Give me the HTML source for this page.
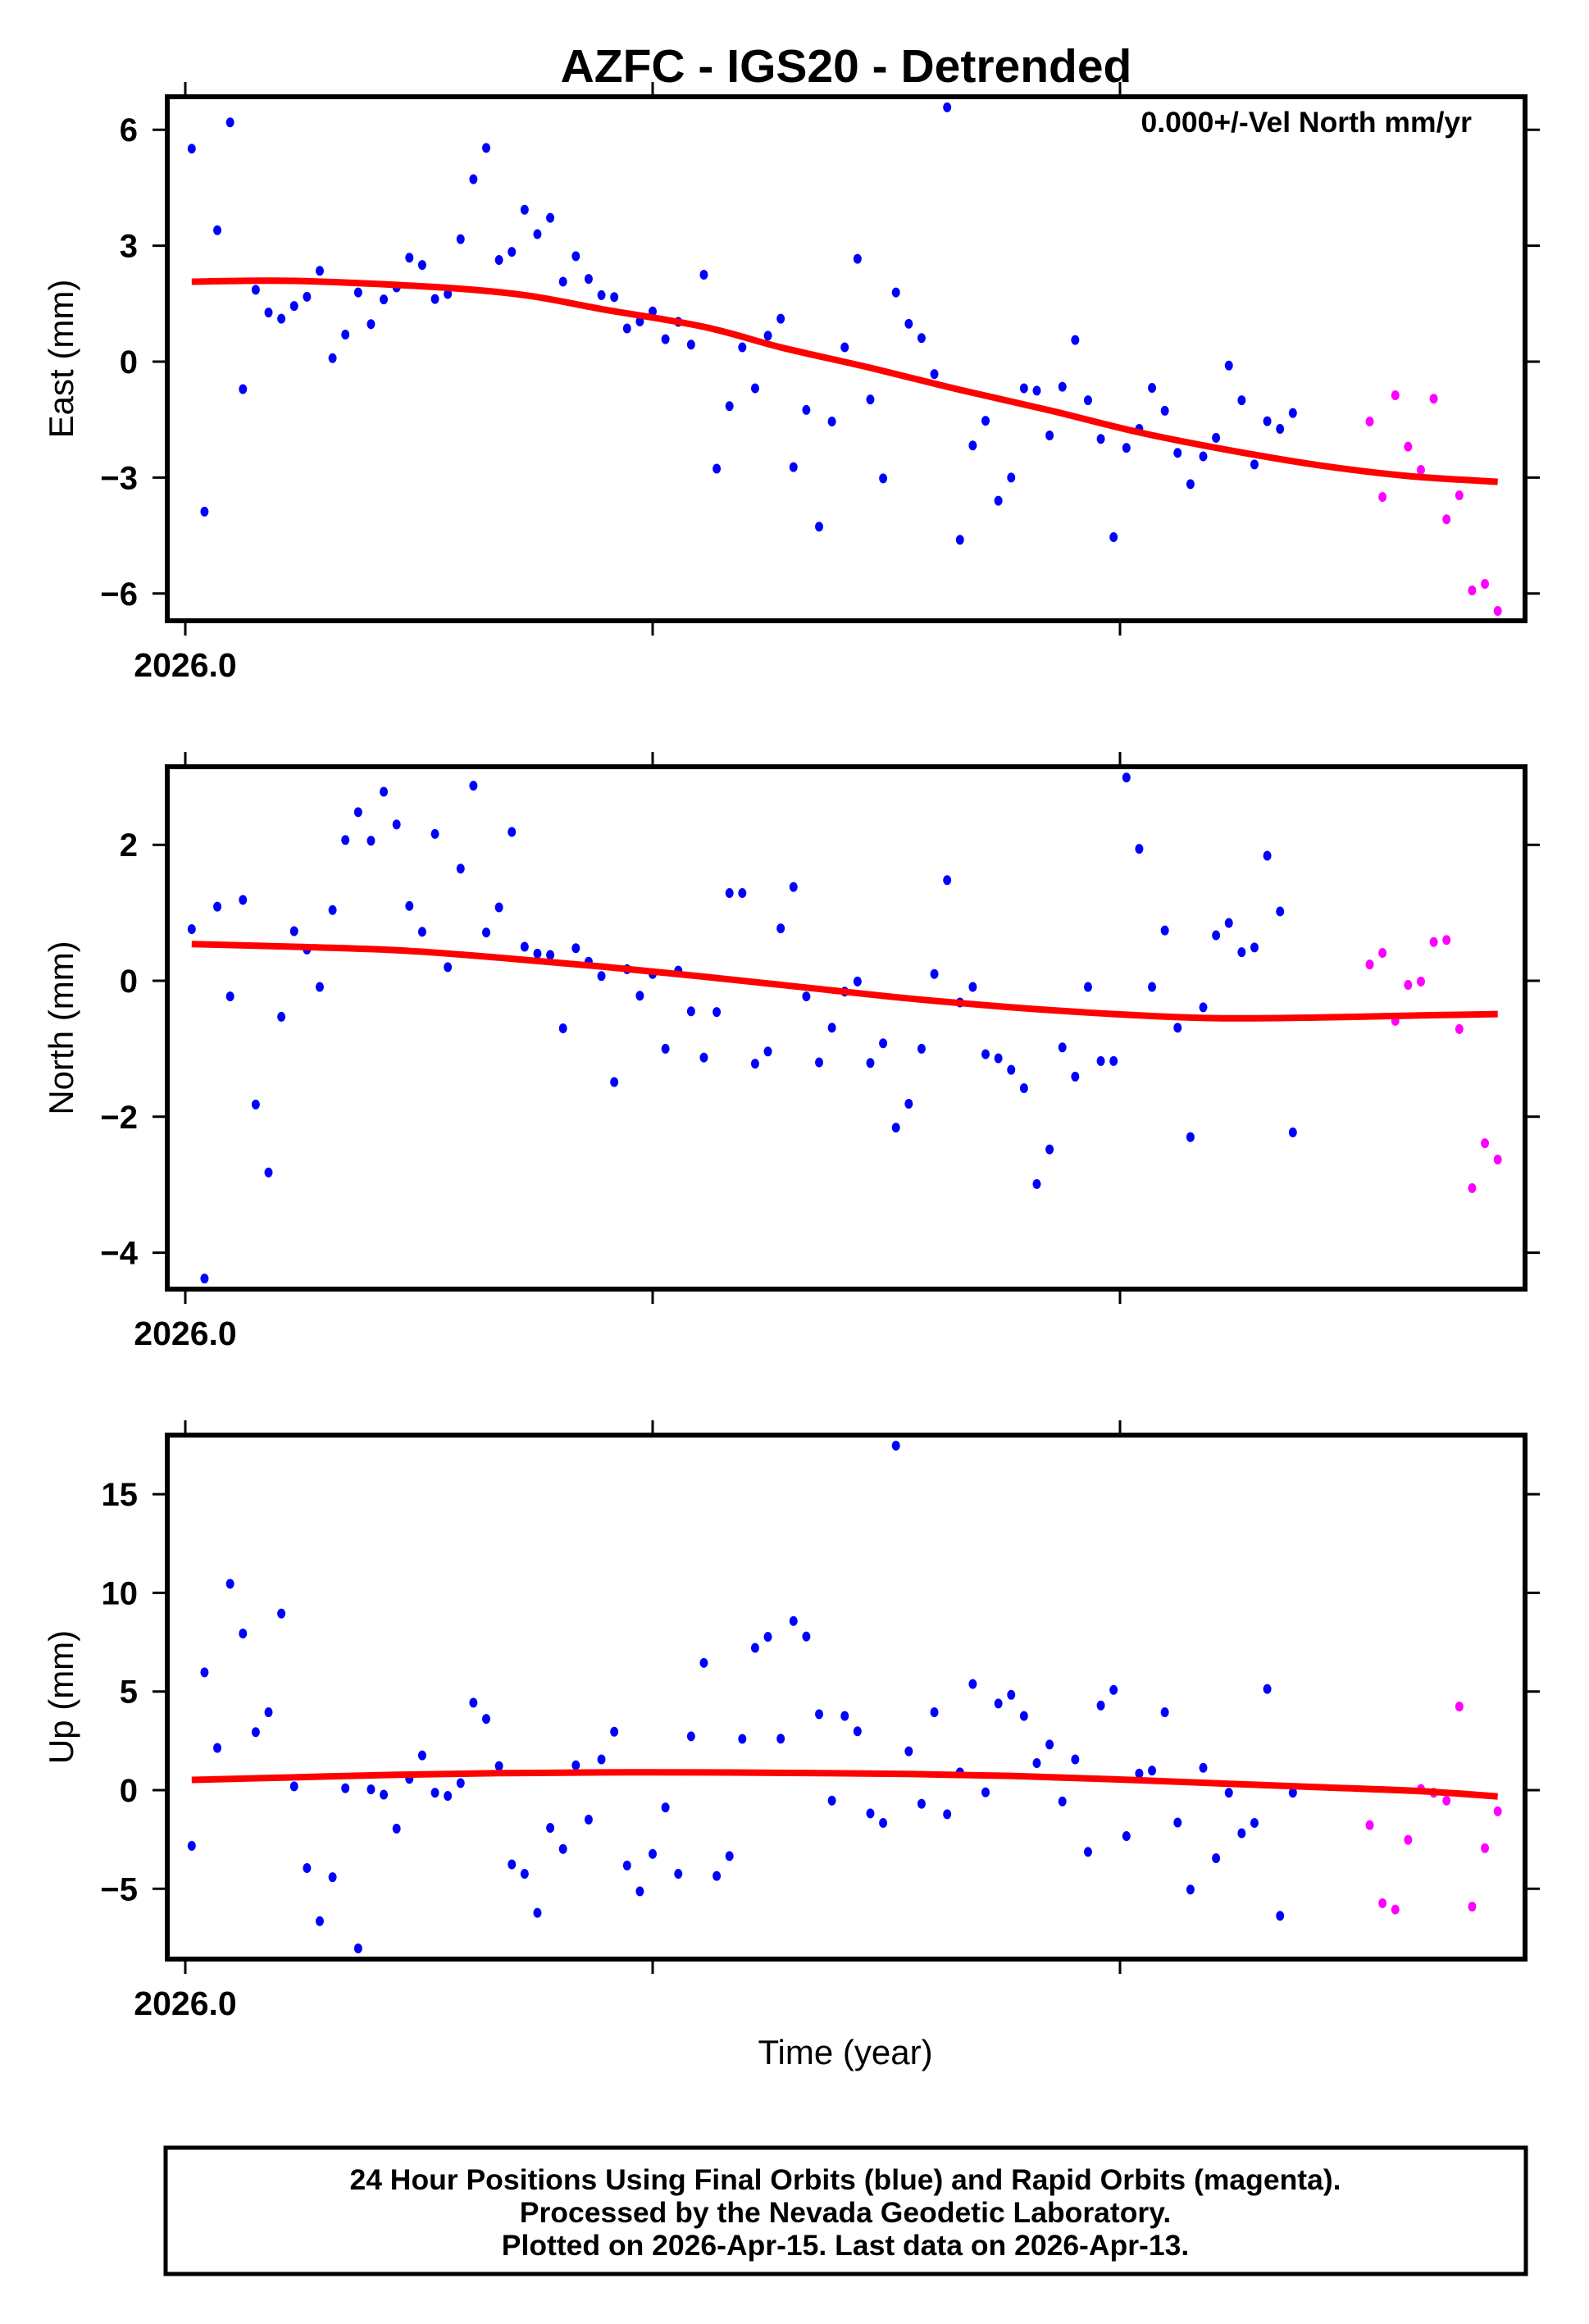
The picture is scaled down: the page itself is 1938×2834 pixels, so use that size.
<!DOCTYPE html>
<html><head><meta charset="utf-8"><style>
html,body{margin:0;padding:0;background:#fff;}
svg{display:block;font-family:"Liberation Sans",sans-serif;}
</style></head><body>
<svg id="chart" width="1938" height="2834" viewBox="0 0 1938 2834" xmlns="http://www.w3.org/2000/svg">
<text x="1032" y="100" font-size="57" font-weight="bold" text-anchor="middle">AZFC - IGS20 - Detrended</text>
<g id="panels"></g>
<text x="1031" y="2517" font-size="42" text-anchor="middle">Time (year)</text>
<g>
<rect x="202" y="2619" width="1659" height="154" fill="none" stroke="#000" stroke-width="5"/>
<text x="1031" y="2670" font-size="35.5" font-weight="bold" text-anchor="middle">24 Hour Positions Using Final Orbits (blue) and Rapid Orbits (magenta).</text>
<text x="1031" y="2710" font-size="35.5" font-weight="bold" text-anchor="middle">Processed by the Nevada Geodetic Laboratory.</text>
<text x="1031" y="2750" font-size="35.5" font-weight="bold" text-anchor="middle">Plotted on 2026-Apr-15. Last data on 2026-Apr-13.</text>
</g>
</svg>
<script>
// day-of-year index (0 = 2026-Jan-01)
const finalDays = [];
for (let d = 0; d <= 86; d++) finalDays.push(d);
const rapidDays = [92,93,94,95,96,97,98,99,100,101,102];
const curveDays = [0,8,16,24,32,40,48,56,64,72,80,88,96,102];
const eastCurveDays = [0,8,19,26,32,40,46,53,60,67,74,81,88,95,102];

const eastFinal = [5.51,-3.88,3.40,6.19,-0.71,1.86,1.27,1.11,1.44,1.68,2.35,0.09,0.70,1.79,0.97,1.61,1.92,2.69,2.50,1.62,1.75,3.17,4.72,5.53,2.63,2.84,3.93,3.30,3.72,2.07,2.73,2.14,1.72,1.67,0.86,1.04,1.30,0.58,1.03,0.44,2.25,-2.77,-1.15,0.37,-0.69,0.67,1.11,-2.73,-1.25,-4.27,-1.55,0.37,2.66,-0.98,-3.02,1.79,0.98,0.61,-0.32,6.58,-4.61,-2.17,-1.53,-3.60,-3.00,-0.69,-0.75,-1.91,-0.65,0.56,-1.00,-2.00,-4.54,-2.23,-1.74,-0.68,-1.27,-2.36,-3.17,-2.45,-1.97,-0.10,-1.00,-2.66,-1.54,-1.74,-1.33];
const eastRapid = [-1.55,-3.50,-0.87,-2.20,-2.80,-0.96,-4.08,-3.46,-5.92,-5.75,-6.45];
const eastCurve = [2.07,2.09,1.93,1.72,1.36,0.90,0.37,-0.16,-0.73,-1.26,-1.83,-2.29,-2.68,-2.96,-3.11];

const northFinal = [0.76,-4.38,1.09,-0.23,1.19,-1.82,-2.82,-0.53,0.73,0.46,-0.09,1.04,2.07,2.48,2.06,2.78,2.30,1.10,0.72,2.16,0.20,1.65,2.87,0.71,1.08,2.19,0.50,0.40,0.38,-0.70,0.48,0.28,0.07,-1.49,0.17,-0.22,0.10,-1.00,0.15,-0.45,-1.13,-0.46,1.29,1.29,-1.22,-1.04,0.77,1.38,-0.23,-1.20,-0.69,-0.16,-0.01,-1.21,-0.92,-2.16,-1.81,-1.00,0.10,1.48,-0.32,-0.09,-1.08,-1.14,-1.31,-1.58,-2.99,-2.48,-0.98,-1.41,-0.09,-1.18,-1.18,2.99,1.94,-0.09,0.74,-0.69,-2.30,-0.39,0.67,0.85,0.42,0.49,1.84,1.02,-2.23];
const northRapid = [0.24,0.41,-0.59,-0.06,-0.01,0.57,0.60,-0.71,-3.05,-2.39,-2.63];
const northCurve = [0.54,0.50,0.45,0.34,0.21,0.06,-0.10,-0.26,-0.39,-0.49,-0.55,-0.54,-0.51,-0.49];

const upFinal = [-2.82,5.97,2.14,10.46,7.94,2.94,3.95,8.95,0.19,-3.95,-6.64,-4.41,0.10,-8.02,0.04,-0.23,-1.95,0.57,1.76,-0.13,-0.29,0.36,4.43,3.61,1.22,-3.76,-4.24,-6.22,-1.91,-2.98,1.26,-1.49,1.56,2.96,-3.82,-5.13,-3.23,-0.88,-4.24,2.73,6.45,-4.35,-3.34,2.60,7.21,7.77,2.61,8.57,7.79,3.85,-0.53,3.76,2.98,-1.18,-1.66,17.46,1.97,-0.69,3.95,-1.22,0.90,5.38,-0.11,4.39,4.83,3.76,1.37,2.31,-0.57,1.56,-3.13,4.29,5.08,-2.33,0.84,0.99,3.95,-1.64,-5.04,1.13,-3.45,-0.13,-2.18,-1.66,5.13,-6.37,-0.13];
const upRapid = [-1.77,-5.73,-6.05,-2.52,0.06,-0.13,-0.53,4.24,-5.90,-2.94,-1.07];
const upCurve = [0.52,0.65,0.78,0.86,0.90,0.90,0.87,0.82,0.72,0.55,0.35,0.15,-0.05,-0.32];

const xTickYears = [2026.0, 2026.1, 2026.2];
const xTickLabels = ["2026.0"];
const eastTicks = [6,3,0,-3,-6];
const northTicks = [2,0,-2,-4];
const upTicks = [15,10,5,0,-5];

const NS = "http://www.w3.org/2000/svg";
const X0 = 204, X1 = 1860;
const yearToX = y => 226 + (y - 2026.0) * 5700;
const dayToX = d => yearToX(2026.0 + (d + 0.5) / 365);

function mk(tag, attrs, parent) {
  const e = document.createElementNS(NS, tag);
  for (const k in attrs) e.setAttribute(k, attrs[k]);
  parent.appendChild(e);
  return e;
}

const panels = [
  {key:"east", title:"East (mm)", top:118, bot:757, zero:441, scale:47.13, ticks:eastTicks, fin:eastFinal, rap:eastRapid, cur:eastCurve, cdays:eastCurveDays, note:true},
  {key:"north", title:"North (mm)", top:935, bot:1572, zero:1196, scale:82.9, ticks:northTicks, fin:northFinal, rap:northRapid, cur:northCurve, cdays:curveDays},
  {key:"up", title:"Up (mm)", top:1750, bot:2389, zero:2183, scale:24.06, ticks:upTicks, fin:upFinal, rap:upRapid, cur:upCurve, cdays:curveDays}
];

const root = document.getElementById("panels");
panels.forEach(p => {
  const yv = v => p.zero - v * p.scale;
  const g = mk("g", {}, root);
  
  

  const clipId = "clip-" + p.key;
  const cp = mk("clipPath", {id: clipId}, g);
  mk("rect", {x: X0, y: p.top, width: X1 - X0, height: p.bot - p.top}, cp);

  p.ticks.forEach(t => {
    const y = yv(t);
    const tl = mk("line", {x1: X0 - 18, x2: X0, y1: y, y2: y, stroke: "#000", "stroke-width": 3}, g);
    
    
    const tr = mk("line", {x1: X1, x2: X1 + 18, y1: y, y2: y, stroke: "#000", "stroke-width": 3}, g);
    
    
    const lab = mk("text", {x: X0 - 36, y: y + 14, "font-size": 40, "font-weight": "bold", "text-anchor": "end"}, g);
    lab.textContent = t < 0 ? "\u2212" + Math.abs(t) : String(t);
    
    
  });
  xTickYears.forEach((yr, i) => {
    const x = yearToX(yr);
    const a = mk("line", {x1: x, x2: x, y1: p.top - 18, y2: p.top, stroke: "#000", "stroke-width": 3}, g);
    
    
    const b = mk("line", {x1: x, x2: x, y1: p.bot, y2: p.bot + 18, stroke: "#000", "stroke-width": 3}, g);
    
    
    if (xTickLabels[i]) {
      const l = mk("text", {x: x, y: p.bot + 68, "font-size": 41, "font-weight": "bold", "text-anchor": "middle"}, g);
      l.textContent = xTickLabels[i];
      
      
    }
  });
  const cy = (p.top + p.bot) / 2;
  const yt = mk("text", {x: 0, y: 0, "font-size": 42, "text-anchor": "middle", transform: `translate(89 ${cy}) rotate(-90)`}, g);
  yt.textContent = p.title;
  
  

  const inner = mk("g", {"clip-path": `url(#${clipId})`}, g);
  p.fin.forEach((v, i) => {
    const c = mk("ellipse", {cx: dayToX(finalDays[i]), cy: yv(v), rx: 5, ry: 6, fill: "#0000ff"}, inner);
    
    
  });
  p.rap.forEach((v, i) => {
    const c = mk("ellipse", {cx: dayToX(rapidDays[i]), cy: yv(v), rx: 5, ry: 6, fill: "#ff00ff"}, inner);
    
    
  });
  const pts = p.cur.map((v, i) => [dayToX(p.cdays[i]), yv(v)]);
  let d = `M${pts[0][0]},${pts[0][1]}`;
  for (let i = 0; i < pts.length - 1; i++) {
    const p0 = pts[Math.max(0, i - 1)], p1 = pts[i], p2 = pts[i + 1], p3 = pts[Math.min(pts.length - 1, i + 2)];
    const c1 = [p1[0] + (p2[0] - p0[0]) / 6, p1[1] + (p2[1] - p0[1]) / 6];
    const c2 = [p2[0] - (p3[0] - p1[0]) / 6, p2[1] - (p3[1] - p1[1]) / 6];
    d += ` C${c1[0]},${c1[1]} ${c2[0]},${c2[1]} ${p2[0]},${p2[1]}`;
  }
  const path = mk("path", {d: d, fill: "none", stroke: "#ff0000", "stroke-width": 8, "stroke-linecap": "butt"}, inner);
  
  

  const fr = mk("rect", {x: X0, y: p.top, width: X1 - X0, height: p.bot - p.top, fill: "none", stroke: "#000", "stroke-width": 6}, g);
  
  

  if (p.note) {
    const n = mk("text", {x: 1795, y: 161, "font-size": 35.5, "font-weight": "bold", "text-anchor": "end"}, g);
    n.textContent = "0.000+/-Vel North mm/yr";
    
    
  }
});
</script>
</body></html>
